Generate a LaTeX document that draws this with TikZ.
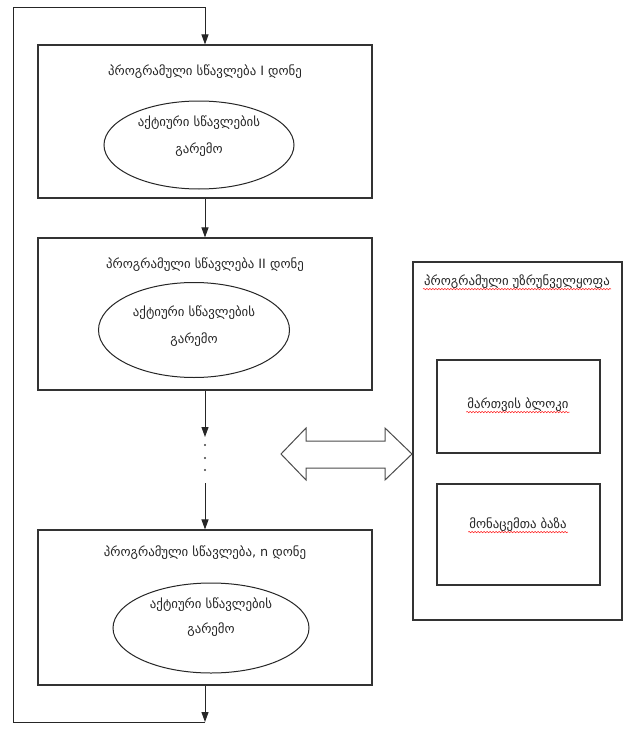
\documentclass[tikz,border=0pt]{standalone}
\usepackage{fontspec}
\setmainfont{DejaVu Sans}
\usetikzlibrary{arrows.meta,decorations.pathmorphing,shapes.geometric}
\begin{document}
\begin{tikzpicture}[x=1pt,y=-1pt,
  frame/.style={draw=black!80,line width=1.1pt,rectangle,inner sep=0pt},
  oval/.style={draw=black!85,line width=1pt,ellipse,inner sep=0pt},
  lbl/.style={font=\fontsize{12.8}{15}\selectfont,inner sep=1pt,text=black!85},
  conn/.style={draw=black!85,line width=1pt},
  arr/.style={conn,-{Triangle[length=10pt,width=7pt]}},
  squig/.style={draw=red!90,line width=0.5pt,decorate,decoration={snake,amplitude=0.7pt,segment length=3pt}},
  dotc/.style={circle,fill=black!75,inner sep=0pt,minimum size=2.2pt}
]
\useasboundingbox (0,0) rectangle (625,736);
\fill[white] (0,0) rectangle (625,736);

% left boxes
\node[frame,minimum width=334pt,minimum height=153pt] (b1) at (205,121.5) {};
\node[frame,minimum width=334pt,minimum height=152pt] (b2) at (205,314) {};
\node[frame,minimum width=334pt,minimum height=155pt] (b3) at (205,607.5) {};

\node[lbl] (t1) at (205,72) {პროგრამული სწავლება I დონე};
\node[lbl] (t2) at (205,265) {პროგრამული სწავლება II დონე};
\node[lbl] (t3) at (205,553) {პროგრამული სწავლება, n დონე};

\node[oval,minimum width=190pt,minimum height=88pt] (e1) at (199,145) {};
\node[oval,minimum width=191pt,minimum height=95pt] (e2) at (194,330) {};
\node[oval,minimum width=196pt,minimum height=90pt] (e3) at (211,628) {};

\node[lbl,align=center] (e1t) at (199,136.5) {აქტიური სწავლების\\[12pt]გარემო};
\node[lbl,align=center] (e2t) at (194,326) {აქტიური სწავლების\\[12pt]გარემო};
\node[lbl,align=center] (e3t) at (211,617.5) {აქტიური სწავლების\\[10pt]გარემო};

% loop
\coordinate (tl) at (13,7);
\coordinate (tr) at (205,7);
\coordinate (bl) at (13,722);
\coordinate (br) at (205,722);
\draw[conn] (bl) -- (tl) -- (tr);
\draw[arr] (tr) -- (b1.north);
\draw[arr] (b1.south) -- (b2.north);
\coordinate (m1) at (205,437);
\coordinate (m2) at (205,483);
\draw[arr] (b2.south) -- (m1);
\node[dotc] (d1) at (205,445) {};
\node[dotc] (d2) at (205,458) {};
\node[dotc] (d3) at (205,470) {};
\draw[arr] (m2) -- (b3.north);
\draw[arr] (b3.south) -- (br);
\draw[conn] (br) -- (bl);

% right side
\node[frame,minimum width=209pt,minimum height=358pt] (rb) at (517.5,441) {};
\node[lbl] (rt) at (517,282) {პროგრამული უზრუნველყოფა};
\node[frame,minimum width=163pt,minimum height=93pt] (r1) at (518.5,406.5) {};
\node[frame,minimum width=163pt,minimum height=101pt] (r2) at (518.5,534.5) {};
\node[lbl] (r1t) at (518,405) {მართვის ბლოკი};
\node[lbl] (r2t) at (518,525) {მონაცემთა ბაზა};

\draw[squig] ([yshift=1pt]rt.south west) -- ([yshift=1pt]rt.south east);
\draw[squig] ([yshift=1pt]r1t.south west) -- ([yshift=1pt]r1t.south east);
\draw[squig] ([yshift=1pt]r2t.south west) -- ([yshift=1pt]r2t.south east);

% double arrow
\draw[draw=black!70,line width=1pt,line join=miter]
  (281,454) -- (306,428) -- (306,441) -- (385,441) -- (385,428) -- (412,454)
  -- (385,480) -- (385,468) -- (306,468) -- (306,480) -- cycle;
\end{tikzpicture}
\end{document}
